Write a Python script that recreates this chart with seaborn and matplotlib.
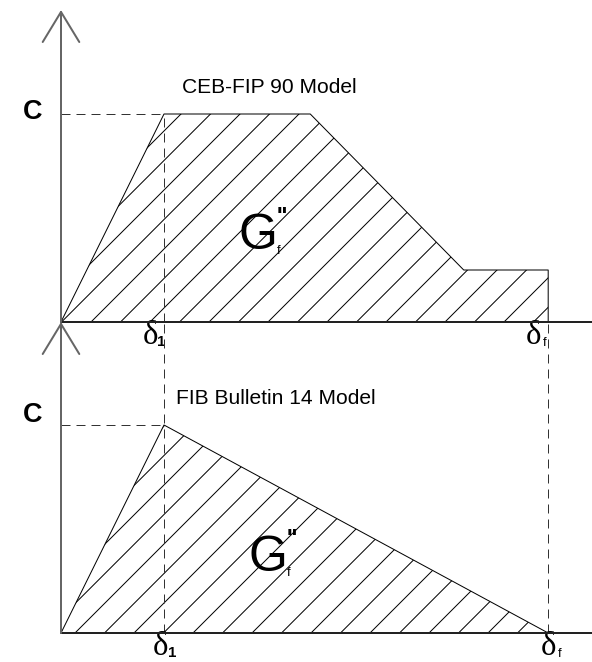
import matplotlib
matplotlib.use("Agg")
import matplotlib.pyplot as plt
import seaborn as sns
import pandas as pd

# bond-slip laws, slip in units of delta_1, stress in units of C
ceb_slip = [0.0, 1.0, 2.42, 3.91, 4.73, 4.73]
ceb_stress = [0.0, 1.0, 1.0, 0.25, 0.25, 0.0]
fib_slip = [0.0, 1.0, 4.73]
fib_stress = [0.0, 1.0, 0.0]
delta_1 = 1.0
delta_f = 4.73
c_max = 1.0
titles = ["CEB-FIP 90 Model", "FIB Bulletin 14 Model"]

DPI = 177  # high dpi so the hatch gets ~30 px spacing
W, H = 592, 662

def px(v):
    # pixels -> points
    return v * 72.0 / DPI

sns.set_theme(style="white")
plt.rcParams["font.family"] = ["Liberation Sans", "DejaVu Sans"]
plt.rcParams["text.color"] = "black"
plt.rcParams["hatch.linewidth"] = px(1.0)

fig = plt.figure(figsize=(W / DPI, H / DPI), dpi=DPI)
ax_top = fig.add_axes([61 / W, 340 / H, 531 / W, 312 / H])
ax_bot = fig.add_axes([61 / W, 29 / H, 531 / W, 311 / H])

unit_x = 103.0  # px per delta_1
unit_y = 208.0  # px per C

panels = [
    (ax_top, pd.DataFrame({"slip": ceb_slip, "stress": ceb_stress}), titles[0]),
    (ax_bot, pd.DataFrame({"slip": fib_slip, "stress": fib_stress}), titles[1]),
]

for i, (ax, df, title) in enumerate(panels):
    ax.set_xlim(0, 531 / unit_x)
    ax.set_ylim(0, (312 if i == 0 else 311) / unit_y)
    ax.axis("off")
    ax.patch.set_alpha(0)

    ax.fill(df["slip"], df["stress"], facecolor="white", edgecolor="black",
            hatch="//", linewidth=0, zorder=2)
    sns.lineplot(data=df, x="slip", y="stress", sort=False, estimator=None,
                 color="black", linewidth=px(1.0), ax=ax, zorder=3)

    # axes: x line and y arrow
    ax.plot([0, 531 / unit_x], [0, 0], color="#222222", lw=px(2.0),
            clip_on=False, zorder=4)
    ax.annotate("", xy=(0, ax.get_ylim()[1]), xytext=(0, 0),
                arrowprops=dict(arrowstyle="->,head_length=1.02,head_width=0.62",
                                color="#666666", lw=px(2.0),
                                shrinkA=0, shrinkB=0),
                annotation_clip=False, zorder=4)

    dash = dict(color="#333333", lw=px(1.0), linestyle=(0, (9, 6)),
                clip_on=False, zorder=3)
    ax.plot([0, delta_1], [c_max, c_max], **dash)
    if i == 0:
        ax.plot([delta_1, delta_1], [0, c_max], **dash)
    else:
        ax.plot([delta_1, delta_1], [0, ax.get_ylim()[1]], **dash)
        ax.plot([delta_f, delta_f], [0, ax.get_ylim()[1]], **dash)

    # C label
    ax.annotate("C", xy=(0, c_max), xytext=(px(-28), px(2 if i == 0 else 10)),
                textcoords="offset points", ha="center", va="center",
                fontsize=px(27), fontweight="bold", annotation_clip=False)

    # title
    ax.annotate(title, xy=(0, c_max), xytext=(px(121 if i == 0 else 115), px(21)),
                textcoords="offset points", ha="left", va="baseline",
                fontsize=px(21), annotation_clip=False)

    # delta labels
    d1_dx = -14 if i == 0 else -3
    df_dx = -15 if i == 0 else 0
    for xv, dx, sub, bold in [(delta_1, d1_dx, "1", True), (delta_f, df_dx, "f", False)]:
        ax.annotate("δ", xy=(xv, 0), xytext=(px(dx), px(-22)),
                    textcoords="offset points", ha="center", va="baseline",
                    fontsize=px(33), family=["Liberation Serif", "DejaVu Serif"],
                    annotation_clip=False)
        ax.annotate(sub, xy=(xv, 0), xytext=(px(dx + 11), px(-24)),
                    textcoords="offset points", ha="center", va="baseline",
                    fontsize=px(15 if bold else 13),
                    fontweight="bold" if bold else "normal",
                    annotation_clip=False)

    # fracture energy label
    gx, gy = (1.91, 0.35) if i == 0 else (2.01, 0.30)
    ax.text(gx, gy, "G", fontsize=px(50), ha="center", va="baseline", zorder=5)
    ax.annotate("''", xy=(gx, gy), xytext=(px(19), px(25)), textcoords="offset points",
                fontsize=px(24), fontweight="bold", ha="left", va="baseline", zorder=5)
    ax.annotate("f", xy=(gx, gy), xytext=(px(19), px(-5)), textcoords="offset points",
                fontsize=px(13), ha="left", va="baseline", zorder=5)

fig.savefig("out.png", dpi=DPI, facecolor="white")
